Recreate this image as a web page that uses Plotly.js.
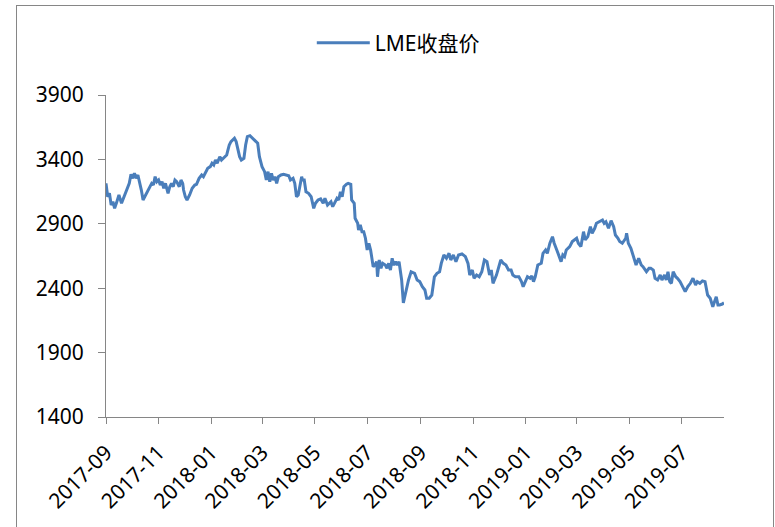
<!DOCTYPE html>
<html>
<head>
<meta charset="utf-8">
<script src="https://cdn.plot.ly/plotly-3.0.1.min.js"></script>
<style>
html,body{margin:0;padding:0;overflow:hidden;background:#fff;}
#frame{position:absolute;left:16px;top:5px;width:756px;height:540px;border:1px solid #868686;background:#fff;}
#chart{width:756px;height:540px;}
</style>
</head>
<body>
<div id="frame"><div id="chart"></div></div>
<script>
const seriesName = "LME收盘价";
const dates = [
"2017-09-01","2017-09-03","2017-09-05","2017-09-07","2017-09-09","2017-09-11","2017-09-13","2017-09-16","2017-09-19","2017-09-22","2017-09-25","2017-09-28","2017-09-30",
"2017-10-02","2017-10-04","2017-10-06","2017-10-08","2017-10-10","2017-10-12","2017-10-14","2017-10-17","2017-10-21","2017-10-24","2017-10-26","2017-10-28","2017-10-30",
"2017-11-01","2017-11-03","2017-11-05","2017-11-07","2017-11-09","2017-11-12","2017-11-14","2017-11-16","2017-11-18","2017-11-20","2017-11-22","2017-11-25","2017-11-27","2017-11-29","2017-11-30",
"2017-12-02","2017-12-04","2017-12-07","2017-12-10","2017-12-13","2017-12-15","2017-12-18","2017-12-21","2017-12-23","2017-12-26","2017-12-28","2017-12-31",
"2018-01-02","2018-01-04","2018-01-06","2018-01-08","2018-01-11","2018-01-13","2018-01-15","2018-01-19","2018-01-20","2018-01-22","2018-01-24","2018-01-26","2018-01-28","2018-01-30",
"2018-02-01","2018-02-03","2018-02-05","2018-02-08","2018-02-10","2018-02-12","2018-02-15","2018-02-17","2018-02-18","2018-02-22","2018-02-24","2018-02-26",
"2018-03-01","2018-03-04","2018-03-06","2018-03-08","2018-03-10","2018-03-12","2018-03-14","2018-03-16","2018-03-18","2018-03-20","2018-03-23","2018-03-26","2018-03-29",
"2018-04-01","2018-04-03","2018-04-06","2018-04-08","2018-04-10","2018-04-12","2018-04-14","2018-04-16","2018-04-17","2018-04-19","2018-04-21","2018-04-24","2018-04-27","2018-04-30",
"2018-05-02","2018-05-05","2018-05-08","2018-05-11","2018-05-13","2018-05-16","2018-05-20","2018-05-22","2018-05-24","2018-05-27","2018-05-29","2018-05-31",
"2018-06-02","2018-06-04","2018-06-07","2018-06-09","2018-06-12","2018-06-13","2018-06-16","2018-06-17","2018-06-20","2018-06-21","2018-06-23","2018-06-25","2018-06-27","2018-06-29",
"2018-07-01","2018-07-03","2018-07-05","2018-07-06","2018-07-08","2018-07-10","2018-07-12","2018-07-13","2018-07-15","2018-07-17","2018-07-19","2018-07-22","2018-07-24","2018-07-26","2018-07-28","2018-07-30",
"2018-08-01","2018-08-03","2018-08-05","2018-08-07","2018-08-09","2018-08-10","2018-08-12","2018-08-15","2018-08-18","2018-08-21","2018-08-25","2018-08-28","2018-08-31",
"2018-09-03","2018-09-06","2018-09-08","2018-09-11","2018-09-14","2018-09-17","2018-09-20","2018-09-23","2018-09-25","2018-09-28",
"2018-10-01","2018-10-04","2018-10-06","2018-10-09","2018-10-12","2018-10-15","2018-10-19","2018-10-23","2018-10-26","2018-10-28","2018-10-31",
"2018-11-02","2018-11-05","2018-11-08","2018-11-11","2018-11-14","2018-11-17","2018-11-20","2018-11-22","2018-11-24","2018-11-28",
"2018-12-01","2018-12-03","2018-12-06","2018-12-09","2018-12-12","2018-12-15","2018-12-17","2018-12-20","2018-12-24","2018-12-27","2018-12-29",
"2019-01-01","2019-01-03","2019-01-06","2019-01-08","2019-01-10","2019-01-12","2019-01-15","2019-01-19","2019-01-21","2019-01-24","2019-01-26","2019-01-29",
"2019-02-01","2019-02-03","2019-02-06","2019-02-09","2019-02-11","2019-02-13","2019-02-15","2019-02-17","2019-02-21","2019-02-24","2019-02-26",
"2019-03-01","2019-03-03","2019-03-06","2019-03-09","2019-03-11","2019-03-14","2019-03-17","2019-03-19","2019-03-22","2019-03-24","2019-03-27","2019-03-31",
"2019-04-02","2019-04-04","2019-04-07","2019-04-10","2019-04-13","2019-04-15","2019-04-18","2019-04-20","2019-04-23","2019-04-27","2019-04-28","2019-04-30",
"2019-05-03","2019-05-06","2019-05-09","2019-05-12","2019-05-15","2019-05-17","2019-05-21","2019-05-24","2019-05-26","2019-05-29","2019-05-31",
"2019-06-03","2019-06-06","2019-06-08","2019-06-11","2019-06-13","2019-06-15","2019-06-17","2019-06-19","2019-06-21","2019-06-24","2019-06-26","2019-06-29",
"2019-07-02","2019-07-05","2019-07-08","2019-07-11","2019-07-14","2019-07-17","2019-07-19","2019-07-22","2019-07-25","2019-07-28","2019-07-31",
"2019-08-03","2019-08-06","2019-08-08","2019-08-10","2019-08-12","2019-08-14","2019-08-17","2019-08-19"
];
const closes = [
3214,3110,3137,3046,3072,3020,3059,3124,3059,3110,3162,3214,3284,
3253,3292,3253,3279,3227,3162,3085,3124,3176,3214,3201,3266,3227,
3240,3201,3227,3176,3214,3137,3188,3214,3188,3240,3227,3188,3240,3214,3162,
3110,3085,3124,3176,3201,3207,3253,3279,3266,3305,3331,3344,
3370,3357,3395,3370,3421,3395,3408,3434,3460,3512,3538,3551,3564,3538,
3486,3421,3395,3408,3512,3577,3584,3569,3564,3538,3525,3421,
3344,3305,3240,3305,3227,3292,3240,3266,3214,3266,3279,3284,3279,
3273,3240,3253,3214,3110,3124,3188,3266,3240,3240,3149,3137,3110,3020,
3059,3085,3093,3059,3098,3046,3072,3033,3059,3098,3085,3149,
3110,3188,3207,3214,3207,3085,3059,2943,2904,2852,2891,2839,2839,2788,
2697,2749,2697,2645,2567,2580,2606,2489,2619,2555,2593,2580,2555,2593,2541,2632,
2580,2606,2580,2606,2528,2464,2285,2386,2464,2528,2516,2464,2451,
2412,2386,2322,2322,2347,2489,2516,2528,2593,2658,
2632,2671,2619,2658,2606,2658,2666,2645,2593,2502,2541,
2477,2502,2489,2528,2619,2606,2502,2541,2438,2502,
2567,2619,2593,2580,2541,2541,2502,2489,2489,2451,2412,
2451,2489,2477,2495,2451,2489,2580,2593,2671,2697,2671,2749,
2800,2749,2697,2645,2606,2658,2645,2697,2723,2762,2775,
2788,2749,2723,2839,2775,2800,2878,2826,2865,2904,2916,2930,
2904,2916,2865,2924,2878,2813,2788,2762,2749,2788,2826,2749,
2710,2645,2580,2632,2580,2567,2528,2555,2555,2541,2477,
2464,2502,2464,2502,2464,2528,2451,2438,2528,2489,2477,2451,
2412,2373,2412,2438,2477,2425,2451,2438,2456,2451,2347,
2322,2256,2295,2334,2270,2270,2277,2287
];
const yTicks = [1400,1900,2400,2900,3400,3900];
const xStart = "2017-09-01";
const xEnd = "2019-08-19";

const axisColor = "#868686";
const fontFam = "Noto Sans, Noto Sans CJK SC, sans-serif";

const trace = {
  x: dates, y: closes, type: "scatter", mode: "lines", name: seriesName,
  line: {color: "#4a7ebb", width: 3}
};

const layout = {
  width: 756, height: 540,
  margin: {l: 89, r: 49, t: 89, b: 129},
  paper_bgcolor: "#fff", plot_bgcolor: "#fff",
  font: {family: fontFam, size: 20, color: "#000"},
  showlegend: true,
  legend: {orientation: "h", x: 0.333, xanchor: "left", y: 1.161, yanchor: "middle",
           font: {family: fontFam, size: 21, color: "#000"}, bgcolor: "rgba(0,0,0,0)", itemwidth: 53},
  xaxis: {
    type: "date", range: [xStart, xEnd], tick0: xStart, dtick: "M2", tickformat: "%Y-%m",
    tickangle: -45, ticks: "outside", ticklen: 6, tickcolor: axisColor, tickwidth: 1,
    showline: true, linecolor: axisColor, linewidth: 1, showgrid: false, zeroline: false,
    ticklabelstandoff: 8,
    tickfont: {family: fontFam, size: 21, color: "#000"}
  },
  yaxis: {
    range: [1400, 3900], tickvals: yTicks, ticks: "outside", ticklen: 7, tickcolor: axisColor,
    showline: true, linecolor: axisColor, linewidth: 1, showgrid: false, zeroline: false,
    ticklabelstandoff: 10,
    tickfont: {family: fontFam, size: 21, color: "#000"}
  }
};

Plotly.newPlot("chart", [trace], layout, {staticPlot: true, displayModeBar: false});
</script>
</body>
</html>
